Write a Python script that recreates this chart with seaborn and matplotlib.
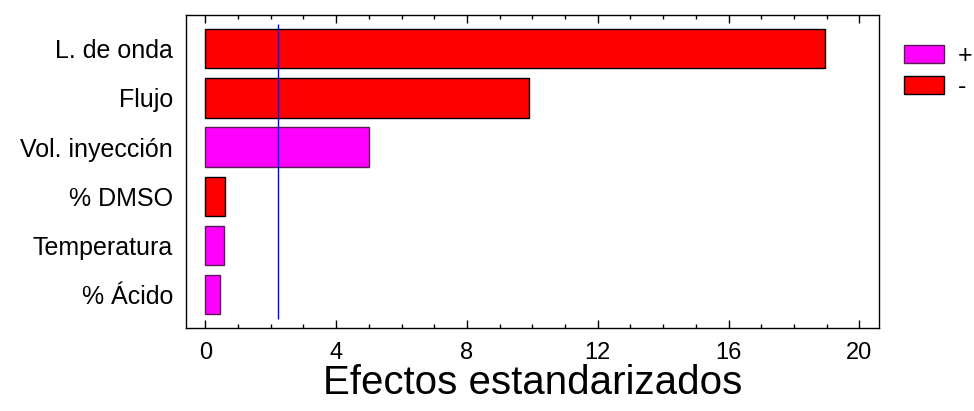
import numpy as np
import pandas as pd
import matplotlib
matplotlib.use("Agg")
import matplotlib.pyplot as plt
from matplotlib.patches import Patch
from matplotlib.ticker import MultipleLocator
import seaborn as sns

# Data (Pareto de efectos estandarizados)
factores = ["L. de onda", "Flujo", "Vol. inyección", "% DMSO", "Temperatura", "% Ácido"]
efectos = [18.95, 9.89, 4.99, 0.60, 0.57, 0.46]
signos = ["-", "-", "+", "-", "+", "+"]
limite = 2.228

colores = {"+": "#ff00ff", "-": "#ff0000"}
bordes = {"+": "#5a1a5a", "-": "#000000"}

df = pd.DataFrame({"Factor": factores, "Efecto": efectos, "Signo": signos})

sns.set_style("white")
plt.rcParams['font.family'] = ['Liberation Sans', 'DejaVu Sans']
plt.rcParams['text.color'] = 'black'
plt.rcParams['axes.labelcolor'] = 'black'
plt.rcParams['xtick.color'] = 'black'
plt.rcParams['ytick.color'] = 'black'

fig = plt.figure(figsize=(9.74, 4.11), dpi=100)
ax = fig.add_axes([0.1907, 0.2019, 0.7118, 0.7609])

sns.barplot(data=df, x="Efecto", y="Factor", hue="Signo", palette=colores,
            order=factores, hue_order=["+", "-"], dodge=False, width=0.8,
            saturation=1, legend=False, ax=ax)

# bordes de cada barra segun el signo
for bar in ax.patches:
    c = bar.get_facecolor()
    key = "+" if c[2] > 0.5 else "-"
    bar.set_edgecolor(bordes[key])
    bar.set_linewidth(1.0)

ax.vlines(limite, -0.5, 5.5, color="blue", lw=1)

ax.set_xlim(-0.6, 20.6)
ax.set_ylim(5.68, -0.68)
ax.xaxis.set_major_locator(MultipleLocator(4))
ax.xaxis.set_minor_locator(MultipleLocator(1))
ax.tick_params(axis="x", which="both", direction="in", top=True, bottom=True,
               labeltop=False, labelsize=17, pad=10, color="black")
ax.tick_params(axis="x", which="major", length=6, width=1)
ax.tick_params(axis="x", which="minor", length=3, width=1)
ax.tick_params(axis="y", length=0, labelsize=18, pad=9)

for s in ax.spines.values():
    s.set_visible(True)
    s.set_color("black")
    s.set_linewidth(1.0)

ax.set_ylabel("")
ax.set_xlabel("Efectos estandarizados", fontsize=29, labelpad=0)

handles = [Patch(facecolor=colores["+"], edgecolor=bordes["+"], label="+"),
           Patch(facecolor=colores["-"], edgecolor="black", label="-")]
fig.legend(handles=handles, loc="upper left", bbox_to_anchor=(904 / 974, 1 - 44 / 411),
           frameon=False, fontsize=18, handlelength=1.6, handleheight=0.72,
           handletextpad=0.55, labelspacing=0.28, borderpad=0, borderaxespad=0,
           labelcolor="black")

fig.savefig("out.png", dpi=100)
